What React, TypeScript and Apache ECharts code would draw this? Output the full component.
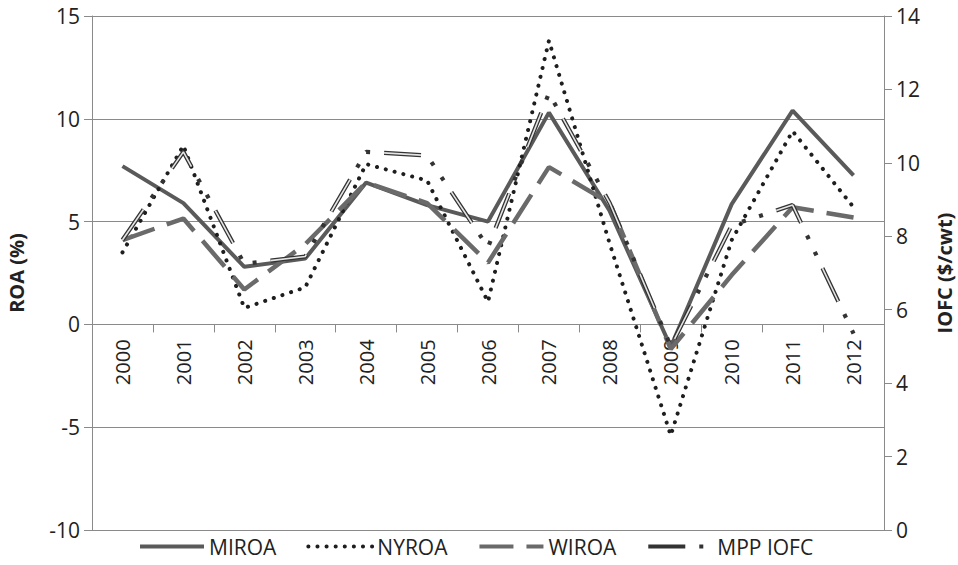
import React, { useEffect, useRef } from 'react';
import * as echarts from 'echarts';

const years = ['2000', '2001', '2002', '2003', '2004', '2005', '2006', '2007', '2008', '2009', '2010', '2011', '2012'];
const miroa = [7.7, 5.9, 2.8, 3.2, 6.9, 5.8, 5.0, 10.3, 5.5, -1.1, 5.85, 10.4, 7.25];
const nyroa = [3.5, 8.7, 0.8, 1.8, 7.8, 7.0, 1.1, 13.8, 3.9, -5.4, 4.1, 9.4, 5.7];
const wiroa = [4.1, 5.15, 1.7, 3.9, 6.9, 5.9, 3.0, 7.65, 5.9, -1.2, 2.4, 5.7, 5.2];
const mppIofc = [7.9, 10.3, 7.25, 7.45, 10.3, 10.2, 7.7, 11.9, 8.9, 5.0, 8.3, 8.85, 5.35];

const FONT = 'Open Sans';
const GRID_TOP = 16;
const GRID_BOTTOM = 35;
const CHART_H = 565;
const Y_MIN = -10;
const Y_MAX = 15;

export default function App() {
  const ref = useRef<HTMLDivElement>(null);
  useEffect(() => {
    const chart = echarts.init(ref.current!, null, { renderer: 'svg' });
    const plotH = CHART_H - GRID_TOP - GRID_BOTTOM;
    // move the category axis up to the ROA = 0 line
    const zeroOffset = -plotH * (0 - Y_MIN) / (Y_MAX - Y_MIN);
    chart.setOption({
      animation: false,
      backgroundColor: '#ffffff',
      textStyle: { fontFamily: FONT },
      grid: { left: 92, right: 74, top: GRID_TOP, bottom: GRID_BOTTOM, containLabel: false, outerBoundsMode: 'none' },
      legend: {
        data: ['MIROA', 'NYROA', 'WIROA', 'MPP IOFC'],
        left: 133,
        bottom: 3,
        itemWidth: 64,
        itemHeight: 14,
        itemGap: 30,
        itemStyle: { opacity: 0 },
        lineStyle: { width: 4 },
        textStyle: { fontSize: 21, color: '#222', fontFamily: FONT },
      },
      xAxis: {
        type: 'category',
        data: years,
        boundaryGap: true,
        offset: zeroOffset,
        axisLine: { onZero: false, lineStyle: { color: '#8a8a8a', width: 1 } },
        axisTick: { show: true, length: 8, lineStyle: { color: '#8a8a8a' } },
        axisLabel: { rotate: 90, margin: 15, fontSize: 20, color: '#222', fontFamily: FONT },
        splitLine: { show: false },
      },
      yAxis: [
        {
          type: 'value',
          min: Y_MIN,
          max: Y_MAX,
          interval: 5,
          name: 'ROA (%)',
          nameLocation: 'middle',
          nameGap: 66,
          nameRotate: 90,
          nameTextStyle: { fontSize: 20, fontWeight: 'bold', color: '#222', fontFamily: FONT },
          axisLine: { show: true, lineStyle: { color: '#8a8a8a' } },
          axisTick: { show: true, length: 8, lineStyle: { color: '#8a8a8a' } },
          axisLabel: { fontSize: 21, color: '#222', margin: 12, fontFamily: FONT },
          splitLine: { show: true, lineStyle: { color: '#8a8a8a', width: 1 } },
        },
        {
          type: 'value',
          min: 0,
          max: 14,
          interval: 2,
          position: 'right',
          name: 'IOFC ($/cwt)',
          nameLocation: 'middle',
          nameGap: 50,
          nameRotate: 90,
          nameTextStyle: { fontSize: 20, fontWeight: 'bold', color: '#222', fontFamily: FONT },
          axisLine: { show: true, lineStyle: { color: '#8a8a8a' } },
          axisTick: { show: true, length: 8, lineStyle: { color: '#8a8a8a' } },
          axisLabel: { fontSize: 21, color: '#222', margin: 12, fontFamily: FONT },
          splitLine: { show: false },
        },
      ],
      series: [
        {
          name: 'MIROA',
          type: 'line',
          data: miroa,
          symbol: 'none',
          z: 2,
          lineStyle: { color: '#5a5a5a', width: 4 },
          itemStyle: { color: '#5a5a5a' },
        },
        {
          name: 'NYROA',
          type: 'line',
          data: nyroa,
          symbol: 'none',
          z: 3,
          lineStyle: { color: '#1e1e1e', width: 4, type: [0.1, 9], cap: 'round' },
          itemStyle: { color: '#1e1e1e' },
        },
        {
          name: 'WIROA',
          type: 'line',
          data: wiroa,
          symbol: 'none',
          z: 4,
          lineStyle: { color: '#6a6a6a', width: 4.5, type: [34, 13] },
          itemStyle: { color: '#6a6a6a' },
        },
        {
          name: 'MPP IOFC',
          type: 'line',
          yAxisIndex: 1,
          data: mppIofc,
          symbol: 'none',
          z: 5,
          lineStyle: { color: '#333333', width: 4.2, type: [37, 14, 4, 14, 4, 14] },
          itemStyle: { color: '#333333' },
        },
        {
          name: 'MPP IOFC inner',
          type: 'line',
          yAxisIndex: 1,
          data: mppIofc,
          symbol: 'none',
          z: 6,
          silent: true,
          lineStyle: { color: '#e4e4e4', width: 1.6, type: [37, 50] },
          itemStyle: { color: '#e4e4e4' },
        },
      ],
    });
    return () => chart.dispose();
  }, []);
  return (
    <div
      ref={ref}
      style={{ position: 'fixed', left: 0, top: 0, width: 958, height: 565, background: '#fff' }}
    />
  );
}
